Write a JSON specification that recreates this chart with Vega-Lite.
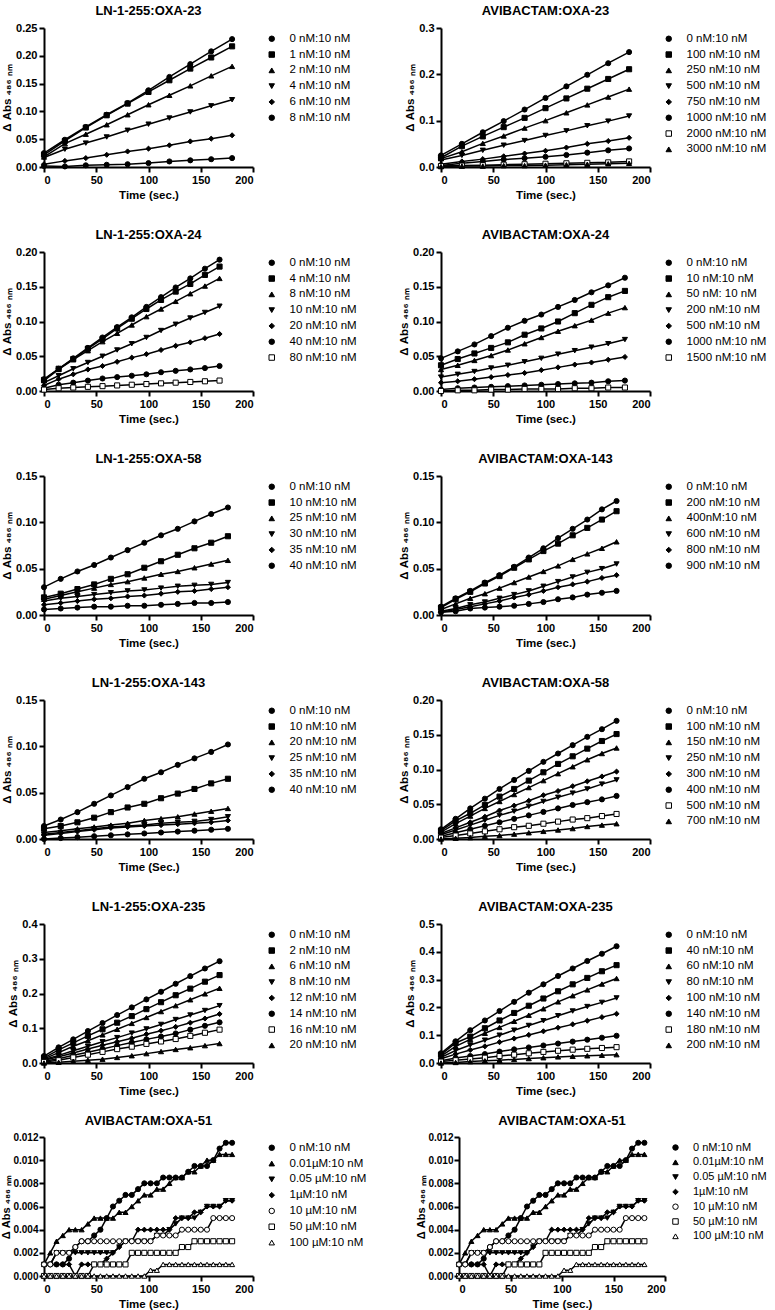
{
"$schema":"https://vega.github.io/schema/vega-lite/v6.json",
"padding":{"left":0,"top":5,"right":5,"bottom":5},
"config":{
 "font":"Liberation Sans",
 "view":{"stroke":null},
 "axis":{"domainColor":"black","domainWidth":2,"tickColor":"black","tickWidth":2,"tickSize":5,"labelColor":"black","labelFont":"Liberation Sans","labelFontSize":11,"labelFontWeight":"bold","titleColor":"black","titleFont":"Liberation Sans","titleFontSize":11.5,"titleFontWeight":"bold","grid":false,"labelPadding":2},
 "axisY":{"titlePadding":3},
 "legend":{"labelFont":"Liberation Sans","labelFontSize":11.5,"labelColor":"black","symbolSize":30,"rowPadding":2.8,"offset":8,"padding":5,"symbolStrokeWidth":1,"labelOffset":12},
 "title":{"font":"Liberation Sans","fontSize":13,"fontWeight":"bold","color":"black","offset":4,"frame":"group","anchor":"middle"}
},
"spacing":18,
"resolve":{"scale":{"x":"independent","y":"independent","shape":"independent","fill":"independent","stroke":"independent"},"legend":{"shape":"independent","fill":"independent","stroke":"independent"}},
"datasets":{
"p1":[
{"s":"0 nM:10 nM","t":0,"v":0.025},{"s":"0 nM:10 nM","t":20,"v":0.049},{"s":"0 nM:10 nM","t":40,"v":0.072},{"s":"0 nM:10 nM","t":60,"v":0.094},{"s":"0 nM:10 nM","t":80,"v":0.115},{"s":"0 nM:10 nM","t":100,"v":0.138},{"s":"0 nM:10 nM","t":120,"v":0.162},{"s":"0 nM:10 nM","t":140,"v":0.185},{"s":"0 nM:10 nM","t":160,"v":0.208},{"s":"0 nM:10 nM","t":180,"v":0.230},
{"s":"1 nM:10 nM","t":0,"v":0.022},{"s":"1 nM:10 nM","t":20,"v":0.047},{"s":"1 nM:10 nM","t":40,"v":0.071},{"s":"1 nM:10 nM","t":60,"v":0.093},{"s":"1 nM:10 nM","t":80,"v":0.114},{"s":"1 nM:10 nM","t":100,"v":0.135},{"s":"1 nM:10 nM","t":120,"v":0.156},{"s":"1 nM:10 nM","t":140,"v":0.177},{"s":"1 nM:10 nM","t":160,"v":0.197},{"s":"1 nM:10 nM","t":180,"v":0.217},
{"s":"2 nM:10 nM","t":0,"v":0.018},{"s":"2 nM:10 nM","t":20,"v":0.042},{"s":"2 nM:10 nM","t":40,"v":0.059},{"s":"2 nM:10 nM","t":60,"v":0.076},{"s":"2 nM:10 nM","t":80,"v":0.094},{"s":"2 nM:10 nM","t":100,"v":0.112},{"s":"2 nM:10 nM","t":120,"v":0.129},{"s":"2 nM:10 nM","t":140,"v":0.146},{"s":"2 nM:10 nM","t":160,"v":0.164},{"s":"2 nM:10 nM","t":180,"v":0.181},
{"s":"4 nM:10 nM","t":0,"v":0.017},{"s":"4 nM:10 nM","t":20,"v":0.032},{"s":"4 nM:10 nM","t":40,"v":0.043},{"s":"4 nM:10 nM","t":60,"v":0.054},{"s":"4 nM:10 nM","t":80,"v":0.066},{"s":"4 nM:10 nM","t":100,"v":0.077},{"s":"4 nM:10 nM","t":120,"v":0.088},{"s":"4 nM:10 nM","t":140,"v":0.099},{"s":"4 nM:10 nM","t":160,"v":0.110},{"s":"4 nM:10 nM","t":180,"v":0.121},
{"s":"6 nM:10 nM","t":0,"v":0.005},{"s":"6 nM:10 nM","t":20,"v":0.011},{"s":"6 nM:10 nM","t":40,"v":0.016},{"s":"6 nM:10 nM","t":60,"v":0.022},{"s":"6 nM:10 nM","t":80,"v":0.028},{"s":"6 nM:10 nM","t":100,"v":0.033},{"s":"6 nM:10 nM","t":120,"v":0.039},{"s":"6 nM:10 nM","t":140,"v":0.046},{"s":"6 nM:10 nM","t":160,"v":0.051},{"s":"6 nM:10 nM","t":180,"v":0.057},
{"s":"8 nM:10 nM","t":0,"v":0.002},{"s":"8 nM:10 nM","t":20,"v":0.001},{"s":"8 nM:10 nM","t":40,"v":0.003},{"s":"8 nM:10 nM","t":60,"v":0.004},{"s":"8 nM:10 nM","t":80,"v":0.005},{"s":"8 nM:10 nM","t":100,"v":0.007},{"s":"8 nM:10 nM","t":120,"v":0.010},{"s":"8 nM:10 nM","t":140,"v":0.012},{"s":"8 nM:10 nM","t":160,"v":0.014},{"s":"8 nM:10 nM","t":180,"v":0.016}
],
"p2":[
{"s":"0 nM:10 nM","t":0,"v":0.025},{"s":"0 nM:10 nM","t":20,"v":0.050},{"s":"0 nM:10 nM","t":40,"v":0.075},{"s":"0 nM:10 nM","t":60,"v":0.099},{"s":"0 nM:10 nM","t":80,"v":0.124},{"s":"0 nM:10 nM","t":100,"v":0.149},{"s":"0 nM:10 nM","t":120,"v":0.174},{"s":"0 nM:10 nM","t":140,"v":0.199},{"s":"0 nM:10 nM","t":160,"v":0.224},{"s":"0 nM:10 nM","t":180,"v":0.248},
{"s":"100 nM:10 nM","t":0,"v":0.020},{"s":"100 nM:10 nM","t":20,"v":0.045},{"s":"100 nM:10 nM","t":40,"v":0.066},{"s":"100 nM:10 nM","t":60,"v":0.086},{"s":"100 nM:10 nM","t":80,"v":0.106},{"s":"100 nM:10 nM","t":100,"v":0.127},{"s":"100 nM:10 nM","t":120,"v":0.148},{"s":"100 nM:10 nM","t":140,"v":0.169},{"s":"100 nM:10 nM","t":160,"v":0.190},{"s":"100 nM:10 nM","t":180,"v":0.211},
{"s":"250 nM:10 nM","t":0,"v":0.018},{"s":"250 nM:10 nM","t":20,"v":0.033},{"s":"250 nM:10 nM","t":40,"v":0.051},{"s":"250 nM:10 nM","t":60,"v":0.067},{"s":"250 nM:10 nM","t":80,"v":0.084},{"s":"250 nM:10 nM","t":100,"v":0.100},{"s":"250 nM:10 nM","t":120,"v":0.117},{"s":"250 nM:10 nM","t":140,"v":0.134},{"s":"250 nM:10 nM","t":160,"v":0.151},{"s":"250 nM:10 nM","t":180,"v":0.168},
{"s":"500 nM:10 nM","t":0,"v":0.015},{"s":"500 nM:10 nM","t":20,"v":0.025},{"s":"500 nM:10 nM","t":40,"v":0.036},{"s":"500 nM:10 nM","t":60,"v":0.047},{"s":"500 nM:10 nM","t":80,"v":0.057},{"s":"500 nM:10 nM","t":100,"v":0.068},{"s":"500 nM:10 nM","t":120,"v":0.078},{"s":"500 nM:10 nM","t":140,"v":0.089},{"s":"500 nM:10 nM","t":160,"v":0.099},{"s":"500 nM:10 nM","t":180,"v":0.110},
{"s":"750 nM:10 nM","t":0,"v":0.006},{"s":"750 nM:10 nM","t":20,"v":0.012},{"s":"750 nM:10 nM","t":40,"v":0.017},{"s":"750 nM:10 nM","t":60,"v":0.023},{"s":"750 nM:10 nM","t":80,"v":0.029},{"s":"750 nM:10 nM","t":100,"v":0.035},{"s":"750 nM:10 nM","t":120,"v":0.042},{"s":"750 nM:10 nM","t":140,"v":0.050},{"s":"750 nM:10 nM","t":160,"v":0.056},{"s":"750 nM:10 nM","t":180,"v":0.063},
{"s":"1000 nM:10 nM","t":0,"v":0.003},{"s":"1000 nM:10 nM","t":20,"v":0.008},{"s":"1000 nM:10 nM","t":40,"v":0.012},{"s":"1000 nM:10 nM","t":60,"v":0.016},{"s":"1000 nM:10 nM","t":80,"v":0.019},{"s":"1000 nM:10 nM","t":100,"v":0.022},{"s":"1000 nM:10 nM","t":120,"v":0.026},{"s":"1000 nM:10 nM","t":140,"v":0.031},{"s":"1000 nM:10 nM","t":160,"v":0.036},{"s":"1000 nM:10 nM","t":180,"v":0.040},
{"s":"2000 nM:10 nM","t":0,"v":0.002},{"s":"2000 nM:10 nM","t":20,"v":0.003},{"s":"2000 nM:10 nM","t":40,"v":0.004},{"s":"2000 nM:10 nM","t":60,"v":0.005},{"s":"2000 nM:10 nM","t":80,"v":0.006},{"s":"2000 nM:10 nM","t":100,"v":0.007},{"s":"2000 nM:10 nM","t":120,"v":0.008},{"s":"2000 nM:10 nM","t":140,"v":0.009},{"s":"2000 nM:10 nM","t":160,"v":0.010},{"s":"2000 nM:10 nM","t":180,"v":0.012},
{"s":"3000 nM:10 nM","t":0,"v":0.001},{"s":"3000 nM:10 nM","t":20,"v":0.002},{"s":"3000 nM:10 nM","t":40,"v":0.002},{"s":"3000 nM:10 nM","t":60,"v":0.003},{"s":"3000 nM:10 nM","t":80,"v":0.003},{"s":"3000 nM:10 nM","t":100,"v":0.004},{"s":"3000 nM:10 nM","t":120,"v":0.005},{"s":"3000 nM:10 nM","t":140,"v":0.006},{"s":"3000 nM:10 nM","t":160,"v":0.007},{"s":"3000 nM:10 nM","t":180,"v":0.008}
],
"p3":[
{"s":"0 nM:10 nM","t":0,"v":0.017},{"s":"0 nM:10 nM","t":14,"v":0.032},{"s":"0 nM:10 nM","t":28,"v":0.047},{"s":"0 nM:10 nM","t":42,"v":0.062},{"s":"0 nM:10 nM","t":56,"v":0.077},{"s":"0 nM:10 nM","t":70,"v":0.092},{"s":"0 nM:10 nM","t":84,"v":0.106},{"s":"0 nM:10 nM","t":98,"v":0.121},{"s":"0 nM:10 nM","t":112,"v":0.135},{"s":"0 nM:10 nM","t":126,"v":0.149},{"s":"0 nM:10 nM","t":140,"v":0.162},{"s":"0 nM:10 nM","t":154,"v":0.176},{"s":"0 nM:10 nM","t":168,"v":0.189},
{"s":"4 nM:10 nM","t":0,"v":0.016},{"s":"4 nM:10 nM","t":14,"v":0.032},{"s":"4 nM:10 nM","t":28,"v":0.046},{"s":"4 nM:10 nM","t":42,"v":0.061},{"s":"4 nM:10 nM","t":56,"v":0.075},{"s":"4 nM:10 nM","t":70,"v":0.090},{"s":"4 nM:10 nM","t":84,"v":0.104},{"s":"4 nM:10 nM","t":98,"v":0.118},{"s":"4 nM:10 nM","t":112,"v":0.131},{"s":"4 nM:10 nM","t":126,"v":0.143},{"s":"4 nM:10 nM","t":140,"v":0.154},{"s":"4 nM:10 nM","t":154,"v":0.167},{"s":"4 nM:10 nM","t":168,"v":0.179},
{"s":"8 nM:10 nM","t":0,"v":0.015},{"s":"8 nM:10 nM","t":14,"v":0.031},{"s":"8 nM:10 nM","t":28,"v":0.045},{"s":"8 nM:10 nM","t":42,"v":0.058},{"s":"8 nM:10 nM","t":56,"v":0.071},{"s":"8 nM:10 nM","t":70,"v":0.083},{"s":"8 nM:10 nM","t":84,"v":0.095},{"s":"8 nM:10 nM","t":98,"v":0.107},{"s":"8 nM:10 nM","t":112,"v":0.118},{"s":"8 nM:10 nM","t":126,"v":0.129},{"s":"8 nM:10 nM","t":140,"v":0.140},{"s":"8 nM:10 nM","t":154,"v":0.151},{"s":"8 nM:10 nM","t":168,"v":0.162},
{"s":"10 nM:10 nM","t":0,"v":0.012},{"s":"10 nM:10 nM","t":14,"v":0.022},{"s":"10 nM:10 nM","t":28,"v":0.032},{"s":"10 nM:10 nM","t":42,"v":0.041},{"s":"10 nM:10 nM","t":56,"v":0.050},{"s":"10 nM:10 nM","t":70,"v":0.059},{"s":"10 nM:10 nM","t":84,"v":0.068},{"s":"10 nM:10 nM","t":98,"v":0.077},{"s":"10 nM:10 nM","t":112,"v":0.087},{"s":"10 nM:10 nM","t":126,"v":0.096},{"s":"10 nM:10 nM","t":140,"v":0.105},{"s":"10 nM:10 nM","t":154,"v":0.113},{"s":"10 nM:10 nM","t":168,"v":0.122},
{"s":"20 nM:10 nM","t":0,"v":0.008},{"s":"20 nM:10 nM","t":14,"v":0.017},{"s":"20 nM:10 nM","t":28,"v":0.024},{"s":"20 nM:10 nM","t":42,"v":0.031},{"s":"20 nM:10 nM","t":56,"v":0.036},{"s":"20 nM:10 nM","t":70,"v":0.042},{"s":"20 nM:10 nM","t":84,"v":0.048},{"s":"20 nM:10 nM","t":98,"v":0.053},{"s":"20 nM:10 nM","t":112,"v":0.059},{"s":"20 nM:10 nM","t":126,"v":0.065},{"s":"20 nM:10 nM","t":140,"v":0.070},{"s":"20 nM:10 nM","t":154,"v":0.076},{"s":"20 nM:10 nM","t":168,"v":0.082},
{"s":"40 nM:10 nM","t":0,"v":0.004},{"s":"40 nM:10 nM","t":14,"v":0.009},{"s":"40 nM:10 nM","t":28,"v":0.012},{"s":"40 nM:10 nM","t":42,"v":0.015},{"s":"40 nM:10 nM","t":56,"v":0.018},{"s":"40 nM:10 nM","t":70,"v":0.020},{"s":"40 nM:10 nM","t":84,"v":0.022},{"s":"40 nM:10 nM","t":98,"v":0.024},{"s":"40 nM:10 nM","t":112,"v":0.027},{"s":"40 nM:10 nM","t":126,"v":0.029},{"s":"40 nM:10 nM","t":140,"v":0.031},{"s":"40 nM:10 nM","t":154,"v":0.033},{"s":"40 nM:10 nM","t":168,"v":0.036},
{"s":"80 nM:10 nM","t":0,"v":0.002},{"s":"80 nM:10 nM","t":14,"v":0.004},{"s":"80 nM:10 nM","t":28,"v":0.005},{"s":"80 nM:10 nM","t":42,"v":0.006},{"s":"80 nM:10 nM","t":56,"v":0.007},{"s":"80 nM:10 nM","t":70,"v":0.008},{"s":"80 nM:10 nM","t":84,"v":0.009},{"s":"80 nM:10 nM","t":98,"v":0.010},{"s":"80 nM:10 nM","t":112,"v":0.011},{"s":"80 nM:10 nM","t":126,"v":0.012},{"s":"80 nM:10 nM","t":140,"v":0.013},{"s":"80 nM:10 nM","t":154,"v":0.014},{"s":"80 nM:10 nM","t":168,"v":0.015}
],
"p4":[
{"s":"0 nM:10 nM","t":0,"v":0.047},{"s":"0 nM:10 nM","t":16,"v":0.057},{"s":"0 nM:10 nM","t":32,"v":0.067},{"s":"0 nM:10 nM","t":48,"v":0.079},{"s":"0 nM:10 nM","t":64,"v":0.091},{"s":"0 nM:10 nM","t":80,"v":0.101},{"s":"0 nM:10 nM","t":96,"v":0.110},{"s":"0 nM:10 nM","t":112,"v":0.121},{"s":"0 nM:10 nM","t":128,"v":0.131},{"s":"0 nM:10 nM","t":144,"v":0.142},{"s":"0 nM:10 nM","t":160,"v":0.152},{"s":"0 nM:10 nM","t":176,"v":0.163},
{"s":"10 nM:10 nM","t":0,"v":0.037},{"s":"10 nM:10 nM","t":16,"v":0.046},{"s":"10 nM:10 nM","t":32,"v":0.054},{"s":"10 nM:10 nM","t":48,"v":0.062},{"s":"10 nM:10 nM","t":64,"v":0.070},{"s":"10 nM:10 nM","t":80,"v":0.081},{"s":"10 nM:10 nM","t":96,"v":0.090},{"s":"10 nM:10 nM","t":112,"v":0.100},{"s":"10 nM:10 nM","t":128,"v":0.112},{"s":"10 nM:10 nM","t":144,"v":0.124},{"s":"10 nM:10 nM","t":160,"v":0.135},{"s":"10 nM:10 nM","t":176,"v":0.144},
{"s":"50 nM: 10 nM","t":0,"v":0.031},{"s":"50 nM: 10 nM","t":16,"v":0.037},{"s":"50 nM: 10 nM","t":32,"v":0.044},{"s":"50 nM: 10 nM","t":48,"v":0.051},{"s":"50 nM: 10 nM","t":64,"v":0.059},{"s":"50 nM: 10 nM","t":80,"v":0.068},{"s":"50 nM: 10 nM","t":96,"v":0.077},{"s":"50 nM: 10 nM","t":112,"v":0.086},{"s":"50 nM: 10 nM","t":128,"v":0.094},{"s":"50 nM: 10 nM","t":144,"v":0.102},{"s":"50 nM: 10 nM","t":160,"v":0.112},{"s":"50 nM: 10 nM","t":176,"v":0.120},
{"s":"200 nM:10 nM","t":0,"v":0.020},{"s":"200 nM:10 nM","t":16,"v":0.024},{"s":"200 nM:10 nM","t":32,"v":0.028},{"s":"200 nM:10 nM","t":48,"v":0.033},{"s":"200 nM:10 nM","t":64,"v":0.037},{"s":"200 nM:10 nM","t":80,"v":0.042},{"s":"200 nM:10 nM","t":96,"v":0.047},{"s":"200 nM:10 nM","t":112,"v":0.053},{"s":"200 nM:10 nM","t":128,"v":0.058},{"s":"200 nM:10 nM","t":144,"v":0.063},{"s":"200 nM:10 nM","t":160,"v":0.068},{"s":"200 nM:10 nM","t":176,"v":0.074},
{"s":"500 nM:10 nM","t":0,"v":0.012},{"s":"500 nM:10 nM","t":16,"v":0.014},{"s":"500 nM:10 nM","t":32,"v":0.017},{"s":"500 nM:10 nM","t":48,"v":0.020},{"s":"500 nM:10 nM","t":64,"v":0.023},{"s":"500 nM:10 nM","t":80,"v":0.026},{"s":"500 nM:10 nM","t":96,"v":0.030},{"s":"500 nM:10 nM","t":112,"v":0.034},{"s":"500 nM:10 nM","t":128,"v":0.038},{"s":"500 nM:10 nM","t":144,"v":0.041},{"s":"500 nM:10 nM","t":160,"v":0.045},{"s":"500 nM:10 nM","t":176,"v":0.049},
{"s":"1000 nM:10 nM","t":0,"v":0.002},{"s":"1000 nM:10 nM","t":16,"v":0.004},{"s":"1000 nM:10 nM","t":32,"v":0.005},{"s":"1000 nM:10 nM","t":48,"v":0.006},{"s":"1000 nM:10 nM","t":64,"v":0.007},{"s":"1000 nM:10 nM","t":80,"v":0.008},{"s":"1000 nM:10 nM","t":96,"v":0.009},{"s":"1000 nM:10 nM","t":112,"v":0.010},{"s":"1000 nM:10 nM","t":128,"v":0.011},{"s":"1000 nM:10 nM","t":144,"v":0.012},{"s":"1000 nM:10 nM","t":160,"v":0.014},{"s":"1000 nM:10 nM","t":176,"v":0.015},
{"s":"1500 nM:10 nM","t":0,"v":0.000},{"s":"1500 nM:10 nM","t":16,"v":0.001},{"s":"1500 nM:10 nM","t":32,"v":0.001},{"s":"1500 nM:10 nM","t":48,"v":0.002},{"s":"1500 nM:10 nM","t":64,"v":0.002},{"s":"1500 nM:10 nM","t":80,"v":0.003},{"s":"1500 nM:10 nM","t":96,"v":0.003},{"s":"1500 nM:10 nM","t":112,"v":0.003},{"s":"1500 nM:10 nM","t":128,"v":0.004},{"s":"1500 nM:10 nM","t":144,"v":0.004},{"s":"1500 nM:10 nM","t":160,"v":0.005},{"s":"1500 nM:10 nM","t":176,"v":0.005}
],
"p5":[
{"s":"0 nM:10 nM","t":0,"v":0.030},{"s":"0 nM:10 nM","t":16,"v":0.039},{"s":"0 nM:10 nM","t":32,"v":0.047},{"s":"0 nM:10 nM","t":48,"v":0.054},{"s":"0 nM:10 nM","t":64,"v":0.062},{"s":"0 nM:10 nM","t":80,"v":0.070},{"s":"0 nM:10 nM","t":96,"v":0.078},{"s":"0 nM:10 nM","t":112,"v":0.086},{"s":"0 nM:10 nM","t":128,"v":0.093},{"s":"0 nM:10 nM","t":144,"v":0.101},{"s":"0 nM:10 nM","t":160,"v":0.109},{"s":"0 nM:10 nM","t":176,"v":0.116},
{"s":"10 nM:10 nM","t":0,"v":0.019},{"s":"10 nM:10 nM","t":16,"v":0.023},{"s":"10 nM:10 nM","t":32,"v":0.028},{"s":"10 nM:10 nM","t":48,"v":0.033},{"s":"10 nM:10 nM","t":64,"v":0.039},{"s":"10 nM:10 nM","t":80,"v":0.044},{"s":"10 nM:10 nM","t":96,"v":0.051},{"s":"10 nM:10 nM","t":112,"v":0.058},{"s":"10 nM:10 nM","t":128,"v":0.065},{"s":"10 nM:10 nM","t":144,"v":0.072},{"s":"10 nM:10 nM","t":160,"v":0.078},{"s":"10 nM:10 nM","t":176,"v":0.085},
{"s":"25 nM:10 nM","t":0,"v":0.017},{"s":"25 nM:10 nM","t":16,"v":0.021},{"s":"25 nM:10 nM","t":32,"v":0.025},{"s":"25 nM:10 nM","t":48,"v":0.029},{"s":"25 nM:10 nM","t":64,"v":0.033},{"s":"25 nM:10 nM","t":80,"v":0.036},{"s":"25 nM:10 nM","t":96,"v":0.040},{"s":"25 nM:10 nM","t":112,"v":0.044},{"s":"25 nM:10 nM","t":128,"v":0.047},{"s":"25 nM:10 nM","t":144,"v":0.051},{"s":"25 nM:10 nM","t":160,"v":0.055},{"s":"25 nM:10 nM","t":176,"v":0.059},
{"s":"30 nM:10 nM","t":0,"v":0.015},{"s":"30 nM:10 nM","t":16,"v":0.018},{"s":"30 nM:10 nM","t":32,"v":0.020},{"s":"30 nM:10 nM","t":48,"v":0.022},{"s":"30 nM:10 nM","t":64,"v":0.024},{"s":"30 nM:10 nM","t":80,"v":0.026},{"s":"30 nM:10 nM","t":96,"v":0.027},{"s":"30 nM:10 nM","t":112,"v":0.029},{"s":"30 nM:10 nM","t":128,"v":0.031},{"s":"30 nM:10 nM","t":144,"v":0.032},{"s":"30 nM:10 nM","t":160,"v":0.033},{"s":"30 nM:10 nM","t":176,"v":0.035},
{"s":"35 nM:10 nM","t":0,"v":0.011},{"s":"35 nM:10 nM","t":16,"v":0.013},{"s":"35 nM:10 nM","t":32,"v":0.015},{"s":"35 nM:10 nM","t":48,"v":0.017},{"s":"35 nM:10 nM","t":64,"v":0.018},{"s":"35 nM:10 nM","t":80,"v":0.020},{"s":"35 nM:10 nM","t":96,"v":0.021},{"s":"35 nM:10 nM","t":112,"v":0.023},{"s":"35 nM:10 nM","t":128,"v":0.025},{"s":"35 nM:10 nM","t":144,"v":0.026},{"s":"35 nM:10 nM","t":160,"v":0.028},{"s":"35 nM:10 nM","t":176,"v":0.030},
{"s":"40 nM:10 nM","t":0,"v":0.006},{"s":"40 nM:10 nM","t":16,"v":0.007},{"s":"40 nM:10 nM","t":32,"v":0.008},{"s":"40 nM:10 nM","t":48,"v":0.009},{"s":"40 nM:10 nM","t":64,"v":0.009},{"s":"40 nM:10 nM","t":80,"v":0.010},{"s":"40 nM:10 nM","t":96,"v":0.010},{"s":"40 nM:10 nM","t":112,"v":0.011},{"s":"40 nM:10 nM","t":128,"v":0.012},{"s":"40 nM:10 nM","t":144,"v":0.013},{"s":"40 nM:10 nM","t":160,"v":0.013},{"s":"40 nM:10 nM","t":176,"v":0.014}
],
"p6":[
{"s":"0 nM:10 nM","t":0,"v":0.009},{"s":"0 nM:10 nM","t":14,"v":0.018},{"s":"0 nM:10 nM","t":28,"v":0.026},{"s":"0 nM:10 nM","t":42,"v":0.035},{"s":"0 nM:10 nM","t":56,"v":0.043},{"s":"0 nM:10 nM","t":70,"v":0.052},{"s":"0 nM:10 nM","t":84,"v":0.062},{"s":"0 nM:10 nM","t":98,"v":0.072},{"s":"0 nM:10 nM","t":112,"v":0.083},{"s":"0 nM:10 nM","t":126,"v":0.093},{"s":"0 nM:10 nM","t":140,"v":0.103},{"s":"0 nM:10 nM","t":154,"v":0.114},{"s":"0 nM:10 nM","t":168,"v":0.123},
{"s":"200 nM:10 nM","t":0,"v":0.008},{"s":"200 nM:10 nM","t":14,"v":0.017},{"s":"200 nM:10 nM","t":28,"v":0.025},{"s":"200 nM:10 nM","t":42,"v":0.034},{"s":"200 nM:10 nM","t":56,"v":0.042},{"s":"200 nM:10 nM","t":70,"v":0.051},{"s":"200 nM:10 nM","t":84,"v":0.060},{"s":"200 nM:10 nM","t":98,"v":0.069},{"s":"200 nM:10 nM","t":112,"v":0.077},{"s":"200 nM:10 nM","t":126,"v":0.086},{"s":"200 nM:10 nM","t":140,"v":0.094},{"s":"200 nM:10 nM","t":154,"v":0.103},{"s":"200 nM:10 nM","t":168,"v":0.112},
{"s":"400nM:10 nM","t":0,"v":0.006},{"s":"400nM:10 nM","t":14,"v":0.012},{"s":"400nM:10 nM","t":28,"v":0.018},{"s":"400nM:10 nM","t":42,"v":0.023},{"s":"400nM:10 nM","t":56,"v":0.029},{"s":"400nM:10 nM","t":70,"v":0.035},{"s":"400nM:10 nM","t":84,"v":0.041},{"s":"400nM:10 nM","t":98,"v":0.047},{"s":"400nM:10 nM","t":112,"v":0.053},{"s":"400nM:10 nM","t":126,"v":0.060},{"s":"400nM:10 nM","t":140,"v":0.066},{"s":"400nM:10 nM","t":154,"v":0.072},{"s":"400nM:10 nM","t":168,"v":0.079},
{"s":"600 nM:10 nM","t":0,"v":0.004},{"s":"600 nM:10 nM","t":14,"v":0.007},{"s":"600 nM:10 nM","t":28,"v":0.011},{"s":"600 nM:10 nM","t":42,"v":0.014},{"s":"600 nM:10 nM","t":56,"v":0.018},{"s":"600 nM:10 nM","t":70,"v":0.022},{"s":"600 nM:10 nM","t":84,"v":0.026},{"s":"600 nM:10 nM","t":98,"v":0.031},{"s":"600 nM:10 nM","t":112,"v":0.036},{"s":"600 nM:10 nM","t":126,"v":0.041},{"s":"600 nM:10 nM","t":140,"v":0.046},{"s":"600 nM:10 nM","t":154,"v":0.050},{"s":"600 nM:10 nM","t":168,"v":0.055},
{"s":"800 nM:10 nM","t":0,"v":0.003},{"s":"800 nM:10 nM","t":14,"v":0.006},{"s":"800 nM:10 nM","t":28,"v":0.009},{"s":"800 nM:10 nM","t":42,"v":0.012},{"s":"800 nM:10 nM","t":56,"v":0.015},{"s":"800 nM:10 nM","t":70,"v":0.019},{"s":"800 nM:10 nM","t":84,"v":0.022},{"s":"800 nM:10 nM","t":98,"v":0.026},{"s":"800 nM:10 nM","t":112,"v":0.030},{"s":"800 nM:10 nM","t":126,"v":0.033},{"s":"800 nM:10 nM","t":140,"v":0.036},{"s":"800 nM:10 nM","t":154,"v":0.040},{"s":"800 nM:10 nM","t":168,"v":0.043},
{"s":"900 nM:10 nM","t":0,"v":0.003},{"s":"900 nM:10 nM","t":14,"v":0.004},{"s":"900 nM:10 nM","t":28,"v":0.007},{"s":"900 nM:10 nM","t":42,"v":0.008},{"s":"900 nM:10 nM","t":56,"v":0.009},{"s":"900 nM:10 nM","t":70,"v":0.010},{"s":"900 nM:10 nM","t":84,"v":0.012},{"s":"900 nM:10 nM","t":98,"v":0.014},{"s":"900 nM:10 nM","t":112,"v":0.017},{"s":"900 nM:10 nM","t":126,"v":0.019},{"s":"900 nM:10 nM","t":140,"v":0.022},{"s":"900 nM:10 nM","t":154,"v":0.024},{"s":"900 nM:10 nM","t":168,"v":0.026}
],
"p7":[
{"s":"0 nM:10 nM","t":0,"v":0.014},{"s":"0 nM:10 nM","t":16,"v":0.021},{"s":"0 nM:10 nM","t":32,"v":0.029},{"s":"0 nM:10 nM","t":48,"v":0.038},{"s":"0 nM:10 nM","t":64,"v":0.047},{"s":"0 nM:10 nM","t":80,"v":0.056},{"s":"0 nM:10 nM","t":96,"v":0.065},{"s":"0 nM:10 nM","t":112,"v":0.072},{"s":"0 nM:10 nM","t":128,"v":0.080},{"s":"0 nM:10 nM","t":144,"v":0.087},{"s":"0 nM:10 nM","t":160,"v":0.094},{"s":"0 nM:10 nM","t":176,"v":0.102},
{"s":"10 nM:10 nM","t":0,"v":0.011},{"s":"10 nM:10 nM","t":16,"v":0.014},{"s":"10 nM:10 nM","t":32,"v":0.018},{"s":"10 nM:10 nM","t":48,"v":0.023},{"s":"10 nM:10 nM","t":64,"v":0.029},{"s":"10 nM:10 nM","t":80,"v":0.034},{"s":"10 nM:10 nM","t":96,"v":0.038},{"s":"10 nM:10 nM","t":112,"v":0.044},{"s":"10 nM:10 nM","t":128,"v":0.049},{"s":"10 nM:10 nM","t":144,"v":0.054},{"s":"10 nM:10 nM","t":160,"v":0.060},{"s":"10 nM:10 nM","t":176,"v":0.065},
{"s":"20 nM:10 nM","t":0,"v":0.007},{"s":"20 nM:10 nM","t":16,"v":0.009},{"s":"20 nM:10 nM","t":32,"v":0.011},{"s":"20 nM:10 nM","t":48,"v":0.013},{"s":"20 nM:10 nM","t":64,"v":0.015},{"s":"20 nM:10 nM","t":80,"v":0.017},{"s":"20 nM:10 nM","t":96,"v":0.020},{"s":"20 nM:10 nM","t":112,"v":0.022},{"s":"20 nM:10 nM","t":128,"v":0.024},{"s":"20 nM:10 nM","t":144,"v":0.027},{"s":"20 nM:10 nM","t":160,"v":0.030},{"s":"20 nM:10 nM","t":176,"v":0.033},
{"s":"25 nM:10 nM","t":0,"v":0.005},{"s":"25 nM:10 nM","t":16,"v":0.007},{"s":"25 nM:10 nM","t":32,"v":0.009},{"s":"25 nM:10 nM","t":48,"v":0.011},{"s":"25 nM:10 nM","t":64,"v":0.013},{"s":"25 nM:10 nM","t":80,"v":0.014},{"s":"25 nM:10 nM","t":96,"v":0.015},{"s":"25 nM:10 nM","t":112,"v":0.017},{"s":"25 nM:10 nM","t":128,"v":0.018},{"s":"25 nM:10 nM","t":144,"v":0.019},{"s":"25 nM:10 nM","t":160,"v":0.021},{"s":"25 nM:10 nM","t":176,"v":0.024},
{"s":"35 nM:10 nM","t":0,"v":0.004},{"s":"35 nM:10 nM","t":16,"v":0.006},{"s":"35 nM:10 nM","t":32,"v":0.008},{"s":"35 nM:10 nM","t":48,"v":0.010},{"s":"35 nM:10 nM","t":64,"v":0.012},{"s":"35 nM:10 nM","t":80,"v":0.013},{"s":"35 nM:10 nM","t":96,"v":0.014},{"s":"35 nM:10 nM","t":112,"v":0.015},{"s":"35 nM:10 nM","t":128,"v":0.016},{"s":"35 nM:10 nM","t":144,"v":0.017},{"s":"35 nM:10 nM","t":160,"v":0.018},{"s":"35 nM:10 nM","t":176,"v":0.020},
{"s":"40 nM:10 nM","t":0,"v":0.000},{"s":"40 nM:10 nM","t":16,"v":0.001},{"s":"40 nM:10 nM","t":32,"v":0.002},{"s":"40 nM:10 nM","t":48,"v":0.003},{"s":"40 nM:10 nM","t":64,"v":0.004},{"s":"40 nM:10 nM","t":80,"v":0.005},{"s":"40 nM:10 nM","t":96,"v":0.006},{"s":"40 nM:10 nM","t":112,"v":0.007},{"s":"40 nM:10 nM","t":128,"v":0.008},{"s":"40 nM:10 nM","t":144,"v":0.009},{"s":"40 nM:10 nM","t":160,"v":0.010},{"s":"40 nM:10 nM","t":176,"v":0.011}
],
"p8":[
{"s":"0 nM:10 nM","t":0,"v":0.014},{"s":"0 nM:10 nM","t":14,"v":0.029},{"s":"0 nM:10 nM","t":28,"v":0.044},{"s":"0 nM:10 nM","t":42,"v":0.058},{"s":"0 nM:10 nM","t":56,"v":0.072},{"s":"0 nM:10 nM","t":70,"v":0.085},{"s":"0 nM:10 nM","t":84,"v":0.098},{"s":"0 nM:10 nM","t":98,"v":0.111},{"s":"0 nM:10 nM","t":112,"v":0.123},{"s":"0 nM:10 nM","t":126,"v":0.135},{"s":"0 nM:10 nM","t":140,"v":0.147},{"s":"0 nM:10 nM","t":154,"v":0.158},{"s":"0 nM:10 nM","t":168,"v":0.170},
{"s":"100 nM:10 nM","t":0,"v":0.012},{"s":"100 nM:10 nM","t":14,"v":0.026},{"s":"100 nM:10 nM","t":28,"v":0.037},{"s":"100 nM:10 nM","t":42,"v":0.049},{"s":"100 nM:10 nM","t":56,"v":0.061},{"s":"100 nM:10 nM","t":70,"v":0.072},{"s":"100 nM:10 nM","t":84,"v":0.084},{"s":"100 nM:10 nM","t":98,"v":0.096},{"s":"100 nM:10 nM","t":112,"v":0.108},{"s":"100 nM:10 nM","t":126,"v":0.119},{"s":"100 nM:10 nM","t":140,"v":0.130},{"s":"100 nM:10 nM","t":154,"v":0.141},{"s":"100 nM:10 nM","t":168,"v":0.151},
{"s":"150 nM:10 nM","t":0,"v":0.010},{"s":"150 nM:10 nM","t":14,"v":0.022},{"s":"150 nM:10 nM","t":28,"v":0.033},{"s":"150 nM:10 nM","t":42,"v":0.044},{"s":"150 nM:10 nM","t":56,"v":0.054},{"s":"150 nM:10 nM","t":70,"v":0.064},{"s":"150 nM:10 nM","t":84,"v":0.074},{"s":"150 nM:10 nM","t":98,"v":0.084},{"s":"150 nM:10 nM","t":112,"v":0.094},{"s":"150 nM:10 nM","t":126,"v":0.104},{"s":"150 nM:10 nM","t":140,"v":0.114},{"s":"150 nM:10 nM","t":154,"v":0.123},{"s":"150 nM:10 nM","t":168,"v":0.131},
{"s":"250 nM:10 nM","t":0,"v":0.006},{"s":"250 nM:10 nM","t":14,"v":0.013},{"s":"250 nM:10 nM","t":28,"v":0.020},{"s":"250 nM:10 nM","t":42,"v":0.027},{"s":"250 nM:10 nM","t":56,"v":0.034},{"s":"250 nM:10 nM","t":70,"v":0.040},{"s":"250 nM:10 nM","t":84,"v":0.047},{"s":"250 nM:10 nM","t":98,"v":0.054},{"s":"250 nM:10 nM","t":112,"v":0.060},{"s":"250 nM:10 nM","t":126,"v":0.066},{"s":"250 nM:10 nM","t":140,"v":0.072},{"s":"250 nM:10 nM","t":154,"v":0.079},{"s":"250 nM:10 nM","t":168,"v":0.085},
{"s":"300 nM:10 nM","t":0,"v":0.008},{"s":"300 nM:10 nM","t":14,"v":0.016},{"s":"300 nM:10 nM","t":28,"v":0.024},{"s":"300 nM:10 nM","t":42,"v":0.032},{"s":"300 nM:10 nM","t":56,"v":0.041},{"s":"300 nM:10 nM","t":70,"v":0.048},{"s":"300 nM:10 nM","t":84,"v":0.055},{"s":"300 nM:10 nM","t":98,"v":0.063},{"s":"300 nM:10 nM","t":112,"v":0.069},{"s":"300 nM:10 nM","t":126,"v":0.076},{"s":"300 nM:10 nM","t":140,"v":0.083},{"s":"300 nM:10 nM","t":154,"v":0.090},{"s":"300 nM:10 nM","t":168,"v":0.097},
{"s":"400 nM:10 nM","t":0,"v":0.004},{"s":"400 nM:10 nM","t":14,"v":0.009},{"s":"400 nM:10 nM","t":28,"v":0.014},{"s":"400 nM:10 nM","t":42,"v":0.019},{"s":"400 nM:10 nM","t":56,"v":0.024},{"s":"400 nM:10 nM","t":70,"v":0.029},{"s":"400 nM:10 nM","t":84,"v":0.034},{"s":"400 nM:10 nM","t":98,"v":0.039},{"s":"400 nM:10 nM","t":112,"v":0.044},{"s":"400 nM:10 nM","t":126,"v":0.049},{"s":"400 nM:10 nM","t":140,"v":0.053},{"s":"400 nM:10 nM","t":154,"v":0.057},{"s":"400 nM:10 nM","t":168,"v":0.062},
{"s":"500 nM:10 nM","t":0,"v":0.002},{"s":"500 nM:10 nM","t":14,"v":0.005},{"s":"500 nM:10 nM","t":28,"v":0.008},{"s":"500 nM:10 nM","t":42,"v":0.011},{"s":"500 nM:10 nM","t":56,"v":0.014},{"s":"500 nM:10 nM","t":70,"v":0.017},{"s":"500 nM:10 nM","t":84,"v":0.019},{"s":"500 nM:10 nM","t":98,"v":0.022},{"s":"500 nM:10 nM","t":112,"v":0.025},{"s":"500 nM:10 nM","t":126,"v":0.028},{"s":"500 nM:10 nM","t":140,"v":0.030},{"s":"500 nM:10 nM","t":154,"v":0.033},{"s":"500 nM:10 nM","t":168,"v":0.036},
{"s":"700 nM:10 nM","t":0,"v":0.000},{"s":"700 nM:10 nM","t":14,"v":0.001},{"s":"700 nM:10 nM","t":28,"v":0.002},{"s":"700 nM:10 nM","t":42,"v":0.004},{"s":"700 nM:10 nM","t":56,"v":0.005},{"s":"700 nM:10 nM","t":70,"v":0.007},{"s":"700 nM:10 nM","t":84,"v":0.009},{"s":"700 nM:10 nM","t":98,"v":0.011},{"s":"700 nM:10 nM","t":112,"v":0.013},{"s":"700 nM:10 nM","t":126,"v":0.015},{"s":"700 nM:10 nM","t":140,"v":0.018},{"s":"700 nM:10 nM","t":154,"v":0.020},{"s":"700 nM:10 nM","t":168,"v":0.022}
],
"p9":[
{"s":"0 nM:10 nM","t":0,"v":0.020},{"s":"0 nM:10 nM","t":14,"v":0.045},{"s":"0 nM:10 nM","t":28,"v":0.068},{"s":"0 nM:10 nM","t":42,"v":0.092},{"s":"0 nM:10 nM","t":56,"v":0.115},{"s":"0 nM:10 nM","t":70,"v":0.138},{"s":"0 nM:10 nM","t":84,"v":0.160},{"s":"0 nM:10 nM","t":98,"v":0.183},{"s":"0 nM:10 nM","t":112,"v":0.205},{"s":"0 nM:10 nM","t":126,"v":0.228},{"s":"0 nM:10 nM","t":140,"v":0.250},{"s":"0 nM:10 nM","t":154,"v":0.272},{"s":"0 nM:10 nM","t":168,"v":0.293},
{"s":"2 nM:10 nM","t":0,"v":0.015},{"s":"2 nM:10 nM","t":14,"v":0.038},{"s":"2 nM:10 nM","t":28,"v":0.058},{"s":"2 nM:10 nM","t":42,"v":0.078},{"s":"2 nM:10 nM","t":56,"v":0.097},{"s":"2 nM:10 nM","t":70,"v":0.116},{"s":"2 nM:10 nM","t":84,"v":0.135},{"s":"2 nM:10 nM","t":98,"v":0.155},{"s":"2 nM:10 nM","t":112,"v":0.175},{"s":"2 nM:10 nM","t":126,"v":0.195},{"s":"2 nM:10 nM","t":140,"v":0.214},{"s":"2 nM:10 nM","t":154,"v":0.234},{"s":"2 nM:10 nM","t":168,"v":0.253},
{"s":"6 nM:10 nM","t":0,"v":0.012},{"s":"6 nM:10 nM","t":14,"v":0.030},{"s":"6 nM:10 nM","t":28,"v":0.048},{"s":"6 nM:10 nM","t":42,"v":0.064},{"s":"6 nM:10 nM","t":56,"v":0.081},{"s":"6 nM:10 nM","t":70,"v":0.097},{"s":"6 nM:10 nM","t":84,"v":0.114},{"s":"6 nM:10 nM","t":98,"v":0.131},{"s":"6 nM:10 nM","t":112,"v":0.148},{"s":"6 nM:10 nM","t":126,"v":0.165},{"s":"6 nM:10 nM","t":140,"v":0.182},{"s":"6 nM:10 nM","t":154,"v":0.199},{"s":"6 nM:10 nM","t":168,"v":0.215},
{"s":"8 nM:10 nM","t":0,"v":0.010},{"s":"8 nM:10 nM","t":14,"v":0.022},{"s":"8 nM:10 nM","t":28,"v":0.035},{"s":"8 nM:10 nM","t":42,"v":0.048},{"s":"8 nM:10 nM","t":56,"v":0.061},{"s":"8 nM:10 nM","t":70,"v":0.073},{"s":"8 nM:10 nM","t":84,"v":0.086},{"s":"8 nM:10 nM","t":98,"v":0.098},{"s":"8 nM:10 nM","t":112,"v":0.111},{"s":"8 nM:10 nM","t":126,"v":0.125},{"s":"8 nM:10 nM","t":140,"v":0.138},{"s":"8 nM:10 nM","t":154,"v":0.151},{"s":"8 nM:10 nM","t":168,"v":0.165},
{"s":"12 nM:10 nM","t":0,"v":0.008},{"s":"12 nM:10 nM","t":14,"v":0.018},{"s":"12 nM:10 nM","t":28,"v":0.029},{"s":"12 nM:10 nM","t":42,"v":0.040},{"s":"12 nM:10 nM","t":56,"v":0.051},{"s":"12 nM:10 nM","t":70,"v":0.061},{"s":"12 nM:10 nM","t":84,"v":0.071},{"s":"12 nM:10 nM","t":98,"v":0.083},{"s":"12 nM:10 nM","t":112,"v":0.093},{"s":"12 nM:10 nM","t":126,"v":0.104},{"s":"12 nM:10 nM","t":140,"v":0.116},{"s":"12 nM:10 nM","t":154,"v":0.128},{"s":"12 nM:10 nM","t":168,"v":0.141},
{"s":"14 nM:10 nM","t":0,"v":0.005},{"s":"14 nM:10 nM","t":14,"v":0.012},{"s":"14 nM:10 nM","t":28,"v":0.022},{"s":"14 nM:10 nM","t":42,"v":0.031},{"s":"14 nM:10 nM","t":56,"v":0.040},{"s":"14 nM:10 nM","t":70,"v":0.050},{"s":"14 nM:10 nM","t":84,"v":0.059},{"s":"14 nM:10 nM","t":98,"v":0.068},{"s":"14 nM:10 nM","t":112,"v":0.076},{"s":"14 nM:10 nM","t":126,"v":0.085},{"s":"14 nM:10 nM","t":140,"v":0.096},{"s":"14 nM:10 nM","t":154,"v":0.107},{"s":"14 nM:10 nM","t":168,"v":0.117},
{"s":"16 nM:10 nM","t":0,"v":0.003},{"s":"16 nM:10 nM","t":14,"v":0.008},{"s":"16 nM:10 nM","t":28,"v":0.016},{"s":"16 nM:10 nM","t":42,"v":0.024},{"s":"16 nM:10 nM","t":56,"v":0.032},{"s":"16 nM:10 nM","t":70,"v":0.040},{"s":"16 nM:10 nM","t":84,"v":0.047},{"s":"16 nM:10 nM","t":98,"v":0.055},{"s":"16 nM:10 nM","t":112,"v":0.062},{"s":"16 nM:10 nM","t":126,"v":0.069},{"s":"16 nM:10 nM","t":140,"v":0.078},{"s":"16 nM:10 nM","t":154,"v":0.087},{"s":"16 nM:10 nM","t":168,"v":0.096},
{"s":"20 nM:10 nM","t":0,"v":0.000},{"s":"20 nM:10 nM","t":14,"v":0.002},{"s":"20 nM:10 nM","t":28,"v":0.005},{"s":"20 nM:10 nM","t":42,"v":0.008},{"s":"20 nM:10 nM","t":56,"v":0.011},{"s":"20 nM:10 nM","t":70,"v":0.016},{"s":"20 nM:10 nM","t":84,"v":0.021},{"s":"20 nM:10 nM","t":98,"v":0.027},{"s":"20 nM:10 nM","t":112,"v":0.033},{"s":"20 nM:10 nM","t":126,"v":0.039},{"s":"20 nM:10 nM","t":140,"v":0.044},{"s":"20 nM:10 nM","t":154,"v":0.050},{"s":"20 nM:10 nM","t":168,"v":0.056}
],
"p10":[
{"s":"0 nM:10 nM","t":0,"v":0.035},{"s":"0 nM:10 nM","t":14,"v":0.078},{"s":"0 nM:10 nM","t":28,"v":0.118},{"s":"0 nM:10 nM","t":42,"v":0.153},{"s":"0 nM:10 nM","t":56,"v":0.187},{"s":"0 nM:10 nM","t":70,"v":0.220},{"s":"0 nM:10 nM","t":84,"v":0.253},{"s":"0 nM:10 nM","t":98,"v":0.283},{"s":"0 nM:10 nM","t":112,"v":0.313},{"s":"0 nM:10 nM","t":126,"v":0.340},{"s":"0 nM:10 nM","t":140,"v":0.367},{"s":"0 nM:10 nM","t":154,"v":0.393},{"s":"0 nM:10 nM","t":168,"v":0.420},
{"s":"40 nM:10 nM","t":0,"v":0.030},{"s":"40 nM:10 nM","t":14,"v":0.072},{"s":"40 nM:10 nM","t":28,"v":0.095},{"s":"40 nM:10 nM","t":42,"v":0.125},{"s":"40 nM:10 nM","t":56,"v":0.153},{"s":"40 nM:10 nM","t":70,"v":0.180},{"s":"40 nM:10 nM","t":84,"v":0.206},{"s":"40 nM:10 nM","t":98,"v":0.232},{"s":"40 nM:10 nM","t":112,"v":0.258},{"s":"40 nM:10 nM","t":126,"v":0.283},{"s":"40 nM:10 nM","t":140,"v":0.306},{"s":"40 nM:10 nM","t":154,"v":0.330},{"s":"40 nM:10 nM","t":168,"v":0.352},
{"s":"60 nM:10 nM","t":0,"v":0.025},{"s":"60 nM:10 nM","t":14,"v":0.060},{"s":"60 nM:10 nM","t":28,"v":0.085},{"s":"60 nM:10 nM","t":42,"v":0.107},{"s":"60 nM:10 nM","t":56,"v":0.128},{"s":"60 nM:10 nM","t":70,"v":0.150},{"s":"60 nM:10 nM","t":84,"v":0.172},{"s":"60 nM:10 nM","t":98,"v":0.195},{"s":"60 nM:10 nM","t":112,"v":0.220},{"s":"60 nM:10 nM","t":126,"v":0.242},{"s":"60 nM:10 nM","t":140,"v":0.263},{"s":"60 nM:10 nM","t":154,"v":0.284},{"s":"60 nM:10 nM","t":168,"v":0.304},
{"s":"80 nM:10 nM","t":0,"v":0.020},{"s":"80 nM:10 nM","t":14,"v":0.045},{"s":"80 nM:10 nM","t":28,"v":0.065},{"s":"80 nM:10 nM","t":42,"v":0.082},{"s":"80 nM:10 nM","t":56,"v":0.100},{"s":"80 nM:10 nM","t":70,"v":0.118},{"s":"80 nM:10 nM","t":84,"v":0.135},{"s":"80 nM:10 nM","t":98,"v":0.152},{"s":"80 nM:10 nM","t":112,"v":0.170},{"s":"80 nM:10 nM","t":126,"v":0.187},{"s":"80 nM:10 nM","t":140,"v":0.203},{"s":"80 nM:10 nM","t":154,"v":0.218},{"s":"80 nM:10 nM","t":168,"v":0.234},
{"s":"100 nM:10 nM","t":0,"v":0.015},{"s":"100 nM:10 nM","t":14,"v":0.032},{"s":"100 nM:10 nM","t":28,"v":0.047},{"s":"100 nM:10 nM","t":42,"v":0.060},{"s":"100 nM:10 nM","t":56,"v":0.075},{"s":"100 nM:10 nM","t":70,"v":0.088},{"s":"100 nM:10 nM","t":84,"v":0.101},{"s":"100 nM:10 nM","t":98,"v":0.114},{"s":"100 nM:10 nM","t":112,"v":0.127},{"s":"100 nM:10 nM","t":126,"v":0.139},{"s":"100 nM:10 nM","t":140,"v":0.152},{"s":"100 nM:10 nM","t":154,"v":0.165},{"s":"100 nM:10 nM","t":168,"v":0.177},
{"s":"140 nM:10 nM","t":0,"v":0.008},{"s":"140 nM:10 nM","t":14,"v":0.018},{"s":"140 nM:10 nM","t":28,"v":0.025},{"s":"140 nM:10 nM","t":42,"v":0.032},{"s":"140 nM:10 nM","t":56,"v":0.041},{"s":"140 nM:10 nM","t":70,"v":0.049},{"s":"140 nM:10 nM","t":84,"v":0.056},{"s":"140 nM:10 nM","t":98,"v":0.063},{"s":"140 nM:10 nM","t":112,"v":0.070},{"s":"140 nM:10 nM","t":126,"v":0.077},{"s":"140 nM:10 nM","t":140,"v":0.084},{"s":"140 nM:10 nM","t":154,"v":0.091},{"s":"140 nM:10 nM","t":168,"v":0.098},
{"s":"180 nM:10 nM","t":0,"v":0.005},{"s":"180 nM:10 nM","t":14,"v":0.010},{"s":"180 nM:10 nM","t":28,"v":0.014},{"s":"180 nM:10 nM","t":42,"v":0.019},{"s":"180 nM:10 nM","t":56,"v":0.025},{"s":"180 nM:10 nM","t":70,"v":0.030},{"s":"180 nM:10 nM","t":84,"v":0.035},{"s":"180 nM:10 nM","t":98,"v":0.040},{"s":"180 nM:10 nM","t":112,"v":0.044},{"s":"180 nM:10 nM","t":126,"v":0.048},{"s":"180 nM:10 nM","t":140,"v":0.051},{"s":"180 nM:10 nM","t":154,"v":0.054},{"s":"180 nM:10 nM","t":168,"v":0.057},
{"s":"200 nM:10 nM","t":0,"v":0.000},{"s":"200 nM:10 nM","t":14,"v":0.002},{"s":"200 nM:10 nM","t":28,"v":0.005},{"s":"200 nM:10 nM","t":42,"v":0.008},{"s":"200 nM:10 nM","t":56,"v":0.010},{"s":"200 nM:10 nM","t":70,"v":0.013},{"s":"200 nM:10 nM","t":84,"v":0.016},{"s":"200 nM:10 nM","t":98,"v":0.019},{"s":"200 nM:10 nM","t":112,"v":0.022},{"s":"200 nM:10 nM","t":126,"v":0.024},{"s":"200 nM:10 nM","t":140,"v":0.026},{"s":"200 nM:10 nM","t":154,"v":0.028},{"s":"200 nM:10 nM","t":168,"v":0.030}
],
"d51":[
{"s":"0 nM:10 nM","t":0,"v":0.001},{"s":"0 nM:10 nM","t":6,"v":0.001},{"s":"0 nM:10 nM","t":12,"v":0.001},{"s":"0 nM:10 nM","t":18,"v":0.001},{"s":"0 nM:10 nM","t":24,"v":0.0015},{"s":"0 nM:10 nM","t":30,"v":0.0025},{"s":"0 nM:10 nM","t":36,"v":0.003},{"s":"0 nM:10 nM","t":42,"v":0.003},{"s":"0 nM:10 nM","t":48,"v":0.0035},{"s":"0 nM:10 nM","t":54,"v":0.004},{"s":"0 nM:10 nM","t":60,"v":0.005},{"s":"0 nM:10 nM","t":66,"v":0.006},{"s":"0 nM:10 nM","t":72,"v":0.0065},{"s":"0 nM:10 nM","t":78,"v":0.007},{"s":"0 nM:10 nM","t":84,"v":0.007},{"s":"0 nM:10 nM","t":90,"v":0.0075},{"s":"0 nM:10 nM","t":96,"v":0.008},{"s":"0 nM:10 nM","t":102,"v":0.008},{"s":"0 nM:10 nM","t":108,"v":0.008},{"s":"0 nM:10 nM","t":114,"v":0.0085},{"s":"0 nM:10 nM","t":120,"v":0.0085},{"s":"0 nM:10 nM","t":126,"v":0.0085},{"s":"0 nM:10 nM","t":132,"v":0.0085},{"s":"0 nM:10 nM","t":138,"v":0.009},{"s":"0 nM:10 nM","t":144,"v":0.0095},{"s":"0 nM:10 nM","t":150,"v":0.0095},{"s":"0 nM:10 nM","t":156,"v":0.0095},{"s":"0 nM:10 nM","t":162,"v":0.01},{"s":"0 nM:10 nM","t":168,"v":0.011},{"s":"0 nM:10 nM","t":174,"v":0.0115},{"s":"0 nM:10 nM","t":180,"v":0.0115},
{"s":"0.01µM:10 nM","t":0,"v":0.001},{"s":"0.01µM:10 nM","t":6,"v":0.002},{"s":"0.01µM:10 nM","t":12,"v":0.003},{"s":"0.01µM:10 nM","t":18,"v":0.0035},{"s":"0.01µM:10 nM","t":24,"v":0.004},{"s":"0.01µM:10 nM","t":30,"v":0.004},{"s":"0.01µM:10 nM","t":36,"v":0.004},{"s":"0.01µM:10 nM","t":42,"v":0.0045},{"s":"0.01µM:10 nM","t":48,"v":0.005},{"s":"0.01µM:10 nM","t":54,"v":0.005},{"s":"0.01µM:10 nM","t":60,"v":0.005},{"s":"0.01µM:10 nM","t":66,"v":0.005},{"s":"0.01µM:10 nM","t":72,"v":0.0055},{"s":"0.01µM:10 nM","t":78,"v":0.0055},{"s":"0.01µM:10 nM","t":84,"v":0.006},{"s":"0.01µM:10 nM","t":90,"v":0.0065},{"s":"0.01µM:10 nM","t":96,"v":0.007},{"s":"0.01µM:10 nM","t":102,"v":0.007},{"s":"0.01µM:10 nM","t":108,"v":0.0075},{"s":"0.01µM:10 nM","t":114,"v":0.0075},{"s":"0.01µM:10 nM","t":120,"v":0.008},{"s":"0.01µM:10 nM","t":126,"v":0.0085},{"s":"0.01µM:10 nM","t":132,"v":0.0085},{"s":"0.01µM:10 nM","t":138,"v":0.009},{"s":"0.01µM:10 nM","t":144,"v":0.009},{"s":"0.01µM:10 nM","t":150,"v":0.0095},{"s":"0.01µM:10 nM","t":156,"v":0.01},{"s":"0.01µM:10 nM","t":162,"v":0.01},{"s":"0.01µM:10 nM","t":168,"v":0.0105},{"s":"0.01µM:10 nM","t":174,"v":0.0105},{"s":"0.01µM:10 nM","t":180,"v":0.0105},
{"s":"0.05 µM:10 nM","t":0,"v":0.001},{"s":"0.05 µM:10 nM","t":6,"v":0.001},{"s":"0.05 µM:10 nM","t":12,"v":0.002},{"s":"0.05 µM:10 nM","t":18,"v":0.002},{"s":"0.05 µM:10 nM","t":24,"v":0.002},{"s":"0.05 µM:10 nM","t":30,"v":0.002},{"s":"0.05 µM:10 nM","t":36,"v":0.002},{"s":"0.05 µM:10 nM","t":42,"v":0.002},{"s":"0.05 µM:10 nM","t":48,"v":0.002},{"s":"0.05 µM:10 nM","t":54,"v":0.002},{"s":"0.05 µM:10 nM","t":60,"v":0.002},{"s":"0.05 µM:10 nM","t":66,"v":0.002},{"s":"0.05 µM:10 nM","t":72,"v":0.0025},{"s":"0.05 µM:10 nM","t":78,"v":0.003},{"s":"0.05 µM:10 nM","t":84,"v":0.003},{"s":"0.05 µM:10 nM","t":90,"v":0.003},{"s":"0.05 µM:10 nM","t":96,"v":0.003},{"s":"0.05 µM:10 nM","t":102,"v":0.003},{"s":"0.05 µM:10 nM","t":108,"v":0.0035},{"s":"0.05 µM:10 nM","t":114,"v":0.0035},{"s":"0.05 µM:10 nM","t":120,"v":0.004},{"s":"0.05 µM:10 nM","t":126,"v":0.0045},{"s":"0.05 µM:10 nM","t":132,"v":0.005},{"s":"0.05 µM:10 nM","t":138,"v":0.005},{"s":"0.05 µM:10 nM","t":144,"v":0.005},{"s":"0.05 µM:10 nM","t":150,"v":0.0055},{"s":"0.05 µM:10 nM","t":156,"v":0.006},{"s":"0.05 µM:10 nM","t":162,"v":0.006},{"s":"0.05 µM:10 nM","t":168,"v":0.006},{"s":"0.05 µM:10 nM","t":174,"v":0.0065},{"s":"0.05 µM:10 nM","t":180,"v":0.0065},
{"s":"1µM:10 nM","t":0,"v":0.001},{"s":"1µM:10 nM","t":6,"v":0.001},{"s":"1µM:10 nM","t":12,"v":0.001},{"s":"1µM:10 nM","t":18,"v":0.001},{"s":"1µM:10 nM","t":24,"v":0.001},{"s":"1µM:10 nM","t":30,"v":0.0},{"s":"1µM:10 nM","t":36,"v":0.001},{"s":"1µM:10 nM","t":42,"v":0.001},{"s":"1µM:10 nM","t":48,"v":0.001},{"s":"1µM:10 nM","t":54,"v":0.001},{"s":"1µM:10 nM","t":60,"v":0.0015},{"s":"1µM:10 nM","t":66,"v":0.002},{"s":"1µM:10 nM","t":72,"v":0.0025},{"s":"1µM:10 nM","t":78,"v":0.003},{"s":"1µM:10 nM","t":84,"v":0.003},{"s":"1µM:10 nM","t":90,"v":0.004},{"s":"1µM:10 nM","t":96,"v":0.004},{"s":"1µM:10 nM","t":102,"v":0.004},{"s":"1µM:10 nM","t":108,"v":0.004},{"s":"1µM:10 nM","t":114,"v":0.004},{"s":"1µM:10 nM","t":120,"v":0.004},{"s":"1µM:10 nM","t":126,"v":0.005},{"s":"1µM:10 nM","t":132,"v":0.005},{"s":"1µM:10 nM","t":138,"v":0.005},{"s":"1µM:10 nM","t":144,"v":0.0055},{"s":"1µM:10 nM","t":150,"v":0.0055},{"s":"1µM:10 nM","t":156,"v":0.006},{"s":"1µM:10 nM","t":162,"v":0.006},{"s":"1µM:10 nM","t":168,"v":0.006},{"s":"1µM:10 nM","t":174,"v":0.0065},{"s":"1µM:10 nM","t":180,"v":0.0065},
{"s":"10 µM:10 nM","t":0,"v":0.001},{"s":"10 µM:10 nM","t":6,"v":0.001},{"s":"10 µM:10 nM","t":12,"v":0.002},{"s":"10 µM:10 nM","t":18,"v":0.002},{"s":"10 µM:10 nM","t":24,"v":0.002},{"s":"10 µM:10 nM","t":30,"v":0.0025},{"s":"10 µM:10 nM","t":36,"v":0.003},{"s":"10 µM:10 nM","t":42,"v":0.003},{"s":"10 µM:10 nM","t":48,"v":0.003},{"s":"10 µM:10 nM","t":54,"v":0.003},{"s":"10 µM:10 nM","t":60,"v":0.003},{"s":"10 µM:10 nM","t":66,"v":0.003},{"s":"10 µM:10 nM","t":72,"v":0.003},{"s":"10 µM:10 nM","t":78,"v":0.003},{"s":"10 µM:10 nM","t":84,"v":0.003},{"s":"10 µM:10 nM","t":90,"v":0.003},{"s":"10 µM:10 nM","t":96,"v":0.003},{"s":"10 µM:10 nM","t":102,"v":0.003},{"s":"10 µM:10 nM","t":108,"v":0.0035},{"s":"10 µM:10 nM","t":114,"v":0.0035},{"s":"10 µM:10 nM","t":120,"v":0.0035},{"s":"10 µM:10 nM","t":126,"v":0.0035},{"s":"10 µM:10 nM","t":132,"v":0.004},{"s":"10 µM:10 nM","t":138,"v":0.004},{"s":"10 µM:10 nM","t":144,"v":0.004},{"s":"10 µM:10 nM","t":150,"v":0.004},{"s":"10 µM:10 nM","t":156,"v":0.004},{"s":"10 µM:10 nM","t":162,"v":0.005},{"s":"10 µM:10 nM","t":168,"v":0.005},{"s":"10 µM:10 nM","t":174,"v":0.005},{"s":"10 µM:10 nM","t":180,"v":0.005},
{"s":"50 µM:10 nM","t":0,"v":0.0},{"s":"50 µM:10 nM","t":6,"v":0.0},{"s":"50 µM:10 nM","t":12,"v":0.0},{"s":"50 µM:10 nM","t":18,"v":0.0},{"s":"50 µM:10 nM","t":24,"v":0.0},{"s":"50 µM:10 nM","t":30,"v":0.0},{"s":"50 µM:10 nM","t":36,"v":0.0},{"s":"50 µM:10 nM","t":42,"v":0.0},{"s":"50 µM:10 nM","t":48,"v":0.001},{"s":"50 µM:10 nM","t":54,"v":0.001},{"s":"50 µM:10 nM","t":60,"v":0.001},{"s":"50 µM:10 nM","t":66,"v":0.001},{"s":"50 µM:10 nM","t":72,"v":0.001},{"s":"50 µM:10 nM","t":78,"v":0.001},{"s":"50 µM:10 nM","t":84,"v":0.002},{"s":"50 µM:10 nM","t":90,"v":0.002},{"s":"50 µM:10 nM","t":96,"v":0.002},{"s":"50 µM:10 nM","t":102,"v":0.002},{"s":"50 µM:10 nM","t":108,"v":0.002},{"s":"50 µM:10 nM","t":114,"v":0.002},{"s":"50 µM:10 nM","t":120,"v":0.002},{"s":"50 µM:10 nM","t":126,"v":0.002},{"s":"50 µM:10 nM","t":132,"v":0.0025},{"s":"50 µM:10 nM","t":138,"v":0.0025},{"s":"50 µM:10 nM","t":144,"v":0.003},{"s":"50 µM:10 nM","t":150,"v":0.003},{"s":"50 µM:10 nM","t":156,"v":0.003},{"s":"50 µM:10 nM","t":162,"v":0.003},{"s":"50 µM:10 nM","t":168,"v":0.003},{"s":"50 µM:10 nM","t":174,"v":0.003},{"s":"50 µM:10 nM","t":180,"v":0.003},
{"s":"100 µM:10 nM","t":0,"v":0.0},{"s":"100 µM:10 nM","t":6,"v":0.0},{"s":"100 µM:10 nM","t":12,"v":0.0},{"s":"100 µM:10 nM","t":18,"v":0.0},{"s":"100 µM:10 nM","t":24,"v":0.0},{"s":"100 µM:10 nM","t":30,"v":0.0},{"s":"100 µM:10 nM","t":36,"v":0.0},{"s":"100 µM:10 nM","t":42,"v":0.0},{"s":"100 µM:10 nM","t":48,"v":0.0},{"s":"100 µM:10 nM","t":54,"v":0.0},{"s":"100 µM:10 nM","t":60,"v":0.0},{"s":"100 µM:10 nM","t":66,"v":0.0},{"s":"100 µM:10 nM","t":72,"v":0.0},{"s":"100 µM:10 nM","t":78,"v":0.0},{"s":"100 µM:10 nM","t":84,"v":0.0},{"s":"100 µM:10 nM","t":90,"v":0.0},{"s":"100 µM:10 nM","t":96,"v":0.0},{"s":"100 µM:10 nM","t":102,"v":0.0005},{"s":"100 µM:10 nM","t":108,"v":0.0005},{"s":"100 µM:10 nM","t":114,"v":0.001},{"s":"100 µM:10 nM","t":120,"v":0.001},{"s":"100 µM:10 nM","t":126,"v":0.001},{"s":"100 µM:10 nM","t":132,"v":0.001},{"s":"100 µM:10 nM","t":138,"v":0.001},{"s":"100 µM:10 nM","t":144,"v":0.001},{"s":"100 µM:10 nM","t":150,"v":0.001},{"s":"100 µM:10 nM","t":156,"v":0.001},{"s":"100 µM:10 nM","t":162,"v":0.001},{"s":"100 µM:10 nM","t":168,"v":0.001},{"s":"100 µM:10 nM","t":174,"v":0.001},{"s":"100 µM:10 nM","t":180,"v":0.001}
]
},
"vconcat":[
{"columns":2,"bounds":"flush","spacing":{"row":85,"column":188},
 "resolve":{"scale":{"x":"independent","y":"independent","shape":"independent","fill":"independent","stroke":"independent"},"legend":{"shape":"independent","fill":"independent","stroke":"independent"}},
 "concat":[
{"title":"LN-1-255:OXA-23","width":209,"height":139,"data":{"name":"p1"},
 "encoding":{"x":{"field":"t","type":"quantitative","scale":{"domain":[0,200]},"axis":{"values":[0,50,100,150,200],"title":"Time (sec.)"}},
  "y":{"field":"v","type":"quantitative","scale":{"domain":[0,0.25],"nice":false},"axis":{"values":[0,0.05,0.1,0.15,0.2,0.25],"format":".2f","title":"Δ Abs ₄₈₆ ₙₘ"}}},
 "layer":[{"mark":{"type":"line","color":"black","strokeWidth":1.5},"encoding":{"detail":{"field":"s"}}},
  {"mark":{"type":"point","filled":true,"strokeWidth":1,"size":26,"opacity":1},
   "encoding":{"shape":{"field":"s","type":"nominal","scale":{"domain":["0 nM:10 nM","1 nM:10 nM","2 nM:10 nM","4 nM:10 nM","6 nM:10 nM","8 nM:10 nM"],"range":["circle","square","triangle-up","triangle-down","diamond","circle"]},"legend":{"title":null}},
    "fill":{"field":"s","type":"nominal","scale":{"domain":["0 nM:10 nM","1 nM:10 nM","2 nM:10 nM","4 nM:10 nM","6 nM:10 nM","8 nM:10 nM"],"range":["black"]},"legend":{"title":null}},
    "stroke":{"field":"s","type":"nominal","scale":{"domain":["0 nM:10 nM","1 nM:10 nM","2 nM:10 nM","4 nM:10 nM","6 nM:10 nM","8 nM:10 nM"],"range":["black"]},"legend":{"title":null}}}}]},
{"title":"AVIBACTAM:OXA-23","width":209,"height":139,"data":{"name":"p2"},
 "encoding":{"x":{"field":"t","type":"quantitative","scale":{"domain":[0,200]},"axis":{"values":[0,50,100,150,200],"title":"Time (sec.)"}},
  "y":{"field":"v","type":"quantitative","scale":{"domain":[0,0.3],"nice":false},"axis":{"values":[0,0.1,0.2,0.3],"format":".1f","title":"Δ Abs ₄₈₆ ₙₘ"}}},
 "layer":[{"mark":{"type":"line","color":"black","strokeWidth":1.5},"encoding":{"detail":{"field":"s"}}},
  {"mark":{"type":"point","filled":true,"strokeWidth":1,"size":26,"opacity":1},
   "encoding":{"shape":{"field":"s","type":"nominal","scale":{"domain":["0 nM:10 nM","100 nM:10 nM","250 nM:10 nM","500 nM:10 nM","750 nM:10 nM","1000 nM:10 nM","2000 nM:10 nM","3000 nM:10 nM"],"range":["circle","square","triangle-up","triangle-down","diamond","circle","square","triangle-up"]},"legend":{"title":null}},
    "fill":{"field":"s","type":"nominal","scale":{"domain":["0 nM:10 nM","100 nM:10 nM","250 nM:10 nM","500 nM:10 nM","750 nM:10 nM","1000 nM:10 nM","2000 nM:10 nM","3000 nM:10 nM"],"range":["black","black","black","black","black","black","white","black"]},"legend":{"title":null}},
    "stroke":{"field":"s","type":"nominal","scale":{"domain":["0 nM:10 nM","100 nM:10 nM","250 nM:10 nM","500 nM:10 nM","750 nM:10 nM","1000 nM:10 nM","2000 nM:10 nM","3000 nM:10 nM"],"range":["black"]},"legend":{"title":null}}}}]},
{"title":"LN-1-255:OXA-24","width":209,"height":139,"data":{"name":"p3"},
 "encoding":{"x":{"field":"t","type":"quantitative","scale":{"domain":[0,200]},"axis":{"values":[0,50,100,150,200],"title":"Time (sec.)"}},
  "y":{"field":"v","type":"quantitative","scale":{"domain":[0,0.2],"nice":false},"axis":{"values":[0,0.05,0.1,0.15,0.2],"format":".2f","title":"Δ Abs ₄₈₆ ₙₘ"}}},
 "layer":[{"mark":{"type":"line","color":"black","strokeWidth":1.5},"encoding":{"detail":{"field":"s"}}},
  {"mark":{"type":"point","filled":true,"strokeWidth":1,"size":26,"opacity":1},
   "encoding":{"shape":{"field":"s","type":"nominal","scale":{"domain":["0 nM:10 nM","4 nM:10 nM","8 nM:10 nM","10 nM:10 nM","20 nM:10 nM","40 nM:10 nM","80 nM:10 nM"],"range":["circle","square","triangle-up","triangle-down","diamond","circle","square"]},"legend":{"title":null}},
    "fill":{"field":"s","type":"nominal","scale":{"domain":["0 nM:10 nM","4 nM:10 nM","8 nM:10 nM","10 nM:10 nM","20 nM:10 nM","40 nM:10 nM","80 nM:10 nM"],"range":["black","black","black","black","black","black","white"]},"legend":{"title":null}},
    "stroke":{"field":"s","type":"nominal","scale":{"domain":["0 nM:10 nM","4 nM:10 nM","8 nM:10 nM","10 nM:10 nM","20 nM:10 nM","40 nM:10 nM","80 nM:10 nM"],"range":["black"]},"legend":{"title":null}}}}]},
{"title":"AVIBACTAM:OXA-24","width":209,"height":139,"data":{"name":"p4"},
 "encoding":{"x":{"field":"t","type":"quantitative","scale":{"domain":[0,200]},"axis":{"values":[0,50,100,150,200],"title":"Time (sec.)"}},
  "y":{"field":"v","type":"quantitative","scale":{"domain":[0,0.2],"nice":false},"axis":{"values":[0,0.05,0.1,0.15,0.2],"format":".2f","title":"Δ Abs ₄₈₆ ₙₘ"}}},
 "layer":[{"mark":{"type":"line","color":"black","strokeWidth":1.5},"encoding":{"detail":{"field":"s"}}},
  {"mark":{"type":"point","filled":true,"strokeWidth":1,"size":26,"opacity":1},
   "encoding":{"shape":{"field":"s","type":"nominal","scale":{"domain":["0 nM:10 nM","10 nM:10 nM","50 nM: 10 nM","200 nM:10 nM","500 nM:10 nM","1000 nM:10 nM","1500 nM:10 nM"],"range":["circle","square","triangle-up","triangle-down","diamond","circle","square"]},"legend":{"title":null}},
    "fill":{"field":"s","type":"nominal","scale":{"domain":["0 nM:10 nM","10 nM:10 nM","50 nM: 10 nM","200 nM:10 nM","500 nM:10 nM","1000 nM:10 nM","1500 nM:10 nM"],"range":["black","black","black","black","black","black","white"]},"legend":{"title":null}},
    "stroke":{"field":"s","type":"nominal","scale":{"domain":["0 nM:10 nM","10 nM:10 nM","50 nM: 10 nM","200 nM:10 nM","500 nM:10 nM","1000 nM:10 nM","1500 nM:10 nM"],"range":["black"]},"legend":{"title":null}}}}]},
{"title":"LN-1-255:OXA-58","width":209,"height":139,"data":{"name":"p5"},
 "encoding":{"x":{"field":"t","type":"quantitative","scale":{"domain":[0,200]},"axis":{"values":[0,50,100,150,200],"title":"Time (sec.)"}},
  "y":{"field":"v","type":"quantitative","scale":{"domain":[0,0.15],"nice":false},"axis":{"values":[0,0.05,0.1,0.15],"format":".2f","title":"Δ Abs ₄₈₆ ₙₘ"}}},
 "layer":[{"mark":{"type":"line","color":"black","strokeWidth":1.5},"encoding":{"detail":{"field":"s"}}},
  {"mark":{"type":"point","filled":true,"strokeWidth":1,"size":26,"opacity":1},
   "encoding":{"shape":{"field":"s","type":"nominal","scale":{"domain":["0 nM:10 nM","10 nM:10 nM","25 nM:10 nM","30 nM:10 nM","35 nM:10 nM","40 nM:10 nM"],"range":["circle","square","triangle-up","triangle-down","diamond","circle"]},"legend":{"title":null}},
    "fill":{"field":"s","type":"nominal","scale":{"domain":["0 nM:10 nM","10 nM:10 nM","25 nM:10 nM","30 nM:10 nM","35 nM:10 nM","40 nM:10 nM"],"range":["black"]},"legend":{"title":null}},
    "stroke":{"field":"s","type":"nominal","scale":{"domain":["0 nM:10 nM","10 nM:10 nM","25 nM:10 nM","30 nM:10 nM","35 nM:10 nM","40 nM:10 nM"],"range":["black"]},"legend":{"title":null}}}}]},
{"title":"AVIBACTAM:OXA-143","width":209,"height":139,"data":{"name":"p6"},
 "encoding":{"x":{"field":"t","type":"quantitative","scale":{"domain":[0,200]},"axis":{"values":[0,50,100,150,200],"title":"Time (sec.)"}},
  "y":{"field":"v","type":"quantitative","scale":{"domain":[0,0.15],"nice":false},"axis":{"values":[0,0.05,0.1,0.15],"format":".2f","title":"Δ Abs ₄₈₆ ₙₘ"}}},
 "layer":[{"mark":{"type":"line","color":"black","strokeWidth":1.5},"encoding":{"detail":{"field":"s"}}},
  {"mark":{"type":"point","filled":true,"strokeWidth":1,"size":26,"opacity":1},
   "encoding":{"shape":{"field":"s","type":"nominal","scale":{"domain":["0 nM:10 nM","200 nM:10 nM","400nM:10 nM","600 nM:10 nM","800 nM:10 nM","900 nM:10 nM"],"range":["circle","square","triangle-up","triangle-down","diamond","circle"]},"legend":{"title":null}},
    "fill":{"field":"s","type":"nominal","scale":{"domain":["0 nM:10 nM","200 nM:10 nM","400nM:10 nM","600 nM:10 nM","800 nM:10 nM","900 nM:10 nM"],"range":["black"]},"legend":{"title":null}},
    "stroke":{"field":"s","type":"nominal","scale":{"domain":["0 nM:10 nM","200 nM:10 nM","400nM:10 nM","600 nM:10 nM","800 nM:10 nM","900 nM:10 nM"],"range":["black"]},"legend":{"title":null}}}}]},
{"title":"LN-1-255:OXA-143","width":209,"height":139,"data":{"name":"p7"},
 "encoding":{"x":{"field":"t","type":"quantitative","scale":{"domain":[0,200]},"axis":{"values":[0,50,100,150,200],"title":"Time (Sec.)"}},
  "y":{"field":"v","type":"quantitative","scale":{"domain":[0,0.15],"nice":false},"axis":{"values":[0,0.05,0.1,0.15],"format":".2f","title":"Δ Abs ₄₈₆ ₙₘ"}}},
 "layer":[{"mark":{"type":"line","color":"black","strokeWidth":1.5},"encoding":{"detail":{"field":"s"}}},
  {"mark":{"type":"point","filled":true,"strokeWidth":1,"size":26,"opacity":1},
   "encoding":{"shape":{"field":"s","type":"nominal","scale":{"domain":["0 nM:10 nM","10 nM:10 nM","20 nM:10 nM","25 nM:10 nM","35 nM:10 nM","40 nM:10 nM"],"range":["circle","square","triangle-up","triangle-down","diamond","circle"]},"legend":{"title":null}},
    "fill":{"field":"s","type":"nominal","scale":{"domain":["0 nM:10 nM","10 nM:10 nM","20 nM:10 nM","25 nM:10 nM","35 nM:10 nM","40 nM:10 nM"],"range":["black"]},"legend":{"title":null}},
    "stroke":{"field":"s","type":"nominal","scale":{"domain":["0 nM:10 nM","10 nM:10 nM","20 nM:10 nM","25 nM:10 nM","35 nM:10 nM","40 nM:10 nM"],"range":["black"]},"legend":{"title":null}}}}]},
{"title":"AVIBACTAM:OXA-58","width":209,"height":139,"data":{"name":"p8"},
 "encoding":{"x":{"field":"t","type":"quantitative","scale":{"domain":[0,200]},"axis":{"values":[0,50,100,150,200],"title":"Time (sec.)"}},
  "y":{"field":"v","type":"quantitative","scale":{"domain":[0,0.2],"nice":false},"axis":{"values":[0,0.05,0.1,0.15,0.2],"format":".2f","title":"Δ Abs ₄₈₆ ₙₘ"}}},
 "layer":[{"mark":{"type":"line","color":"black","strokeWidth":1.5},"encoding":{"detail":{"field":"s"}}},
  {"mark":{"type":"point","filled":true,"strokeWidth":1,"size":26,"opacity":1},
   "encoding":{"shape":{"field":"s","type":"nominal","scale":{"domain":["0 nM:10 nM","100 nM:10 nM","150 nM:10 nM","250 nM:10 nM","300 nM:10 nM","400 nM:10 nM","500 nM:10 nM","700 nM:10 nM"],"range":["circle","square","triangle-up","triangle-down","diamond","circle","square","triangle-up"]},"legend":{"title":null}},
    "fill":{"field":"s","type":"nominal","scale":{"domain":["0 nM:10 nM","100 nM:10 nM","150 nM:10 nM","250 nM:10 nM","300 nM:10 nM","400 nM:10 nM","500 nM:10 nM","700 nM:10 nM"],"range":["black","black","black","black","black","black","white","black"]},"legend":{"title":null}},
    "stroke":{"field":"s","type":"nominal","scale":{"domain":["0 nM:10 nM","100 nM:10 nM","150 nM:10 nM","250 nM:10 nM","300 nM:10 nM","400 nM:10 nM","500 nM:10 nM","700 nM:10 nM"],"range":["black"]},"legend":{"title":null}}}}]},
{"title":"LN-1-255:OXA-235","width":209,"height":139,"data":{"name":"p9"},
 "encoding":{"x":{"field":"t","type":"quantitative","scale":{"domain":[0,200]},"axis":{"values":[0,50,100,150,200],"title":"Time (sec.)"}},
  "y":{"field":"v","type":"quantitative","scale":{"domain":[0,0.4],"nice":false},"axis":{"values":[0,0.1,0.2,0.3,0.4],"format":".1f","title":"Δ Abs ₄₈₆ ₙₘ"}}},
 "layer":[{"mark":{"type":"line","color":"black","strokeWidth":1.5},"encoding":{"detail":{"field":"s"}}},
  {"mark":{"type":"point","filled":true,"strokeWidth":1,"size":26,"opacity":1},
   "encoding":{"shape":{"field":"s","type":"nominal","scale":{"domain":["0 nM:10 nM","2 nM:10 nM","6 nM:10 nM","8 nM:10 nM","12 nM:10 nM","14 nM:10 nM","16 nM:10 nM","20 nM:10 nM"],"range":["circle","square","triangle-up","triangle-down","diamond","circle","square","triangle-up"]},"legend":{"title":null}},
    "fill":{"field":"s","type":"nominal","scale":{"domain":["0 nM:10 nM","2 nM:10 nM","6 nM:10 nM","8 nM:10 nM","12 nM:10 nM","14 nM:10 nM","16 nM:10 nM","20 nM:10 nM"],"range":["black","black","black","black","black","black","white","black"]},"legend":{"title":null}},
    "stroke":{"field":"s","type":"nominal","scale":{"domain":["0 nM:10 nM","2 nM:10 nM","6 nM:10 nM","8 nM:10 nM","12 nM:10 nM","14 nM:10 nM","16 nM:10 nM","20 nM:10 nM"],"range":["black"]},"legend":{"title":null}}}}]},
{"title":"AVIBACTAM:OXA-235","width":209,"height":139,"data":{"name":"p10"},
 "encoding":{"x":{"field":"t","type":"quantitative","scale":{"domain":[0,200]},"axis":{"values":[0,50,100,150,200],"title":"Time (sec.)"}},
  "y":{"field":"v","type":"quantitative","scale":{"domain":[0,0.5],"nice":false},"axis":{"values":[0,0.1,0.2,0.3,0.4,0.5],"format":".1f","title":"Δ Abs ₄₈₆ ₙₘ"}}},
 "layer":[{"mark":{"type":"line","color":"black","strokeWidth":1.5},"encoding":{"detail":{"field":"s"}}},
  {"mark":{"type":"point","filled":true,"strokeWidth":1,"size":26,"opacity":1},
   "encoding":{"shape":{"field":"s","type":"nominal","scale":{"domain":["0 nM:10 nM","40 nM:10 nM","60 nM:10 nM","80 nM:10 nM","100 nM:10 nM","140 nM:10 nM","180 nM:10 nM","200 nM:10 nM"],"range":["circle","square","triangle-up","triangle-down","diamond","circle","square","triangle-up"]},"legend":{"title":null}},
    "fill":{"field":"s","type":"nominal","scale":{"domain":["0 nM:10 nM","40 nM:10 nM","60 nM:10 nM","80 nM:10 nM","100 nM:10 nM","140 nM:10 nM","180 nM:10 nM","200 nM:10 nM"],"range":["black","black","black","black","black","black","white","black"]},"legend":{"title":null}},
    "stroke":{"field":"s","type":"nominal","scale":{"domain":["0 nM:10 nM","40 nM:10 nM","60 nM:10 nM","80 nM:10 nM","100 nM:10 nM","140 nM:10 nM","180 nM:10 nM","200 nM:10 nM"],"range":["black"]},"legend":{"title":null}}}}]}
 ]},
{"bounds":"flush","spacing":206,
 "resolve":{"scale":{"x":"independent","y":"independent","shape":"independent","fill":"independent","stroke":"independent"},"legend":{"shape":"independent","fill":"independent","stroke":"independent"}},
 "hconcat":[
{"title":"AVIBACTAM:OXA-51","width":209,"height":139,"data":{"name":"d51"},
 "encoding":{"x":{"field":"t","type":"quantitative","scale":{"domain":[0,200]},"axis":{"values":[0,50,100,150,200],"title":"Time (sec.)"}},
  "y":{"field":"v","type":"quantitative","scale":{"domain":[0,0.012],"nice":false},"axis":{"values":[0,0.002,0.004,0.006,0.008,0.01,0.012],"format":".3f","labelFontSize":10,"labelPadding":1,"titlePadding":1,"titleFontSize":11,"title":"Δ Abs ₄₈₆ ₙₘ"}}},
 "layer":[{"mark":{"type":"line","color":"black","strokeWidth":1.5},"encoding":{"detail":{"field":"s"}}},
  {"mark":{"type":"point","filled":true,"strokeWidth":1,"size":26,"opacity":1},
   "encoding":{"shape":{"field":"s","type":"nominal","scale":{"domain":["0 nM:10 nM","0.01µM:10 nM","0.05 µM:10 nM","1µM:10 nM","10 µM:10 nM","50 µM:10 nM","100 µM:10 nM"],"range":["circle","triangle-up","triangle-down","diamond","circle","square","triangle-up"]},"legend":{"title":null}},
    "fill":{"field":"s","type":"nominal","scale":{"domain":["0 nM:10 nM","0.01µM:10 nM","0.05 µM:10 nM","1µM:10 nM","10 µM:10 nM","50 µM:10 nM","100 µM:10 nM"],"range":["black","black","black","black","white","white","white"]},"legend":{"title":null}},
    "stroke":{"field":"s","type":"nominal","scale":{"domain":["0 nM:10 nM","0.01µM:10 nM","0.05 µM:10 nM","1µM:10 nM","10 µM:10 nM","50 µM:10 nM","100 µM:10 nM"],"range":["black"]},"legend":{"title":null}}}}]},
{"title":"AVIBACTAM:OXA-51","width":206,"height":139,"data":{"name":"d51"},
 "encoding":{"x":{"field":"t","type":"quantitative","scale":{"domain":[0,200]},"axis":{"values":[0,50,100,150,200],"title":"Time (sec.)"}},
  "y":{"field":"v","type":"quantitative","scale":{"domain":[0,0.012],"nice":false},"axis":{"values":[0,0.002,0.004,0.006,0.008,0.01,0.012],"format":".3f","labelFontSize":10,"labelPadding":1,"titlePadding":1,"titleFontSize":11,"title":"Δ Abs ₄₈₆ ₙₘ"}}},
 "layer":[{"mark":{"type":"line","color":"black","strokeWidth":1.5},"encoding":{"detail":{"field":"s"}}},
  {"mark":{"type":"point","filled":true,"strokeWidth":1,"size":26,"opacity":1},
   "encoding":{"shape":{"field":"s","type":"nominal","scale":{"domain":["0 nM:10 nM","0.01µM:10 nM","0.05 µM:10 nM","1µM:10 nM","10 µM:10 nM","50 µM:10 nM","100 µM:10 nM"],"range":["circle","triangle-up","triangle-down","diamond","circle","square","triangle-up"]},"legend":{"title":null,"offset":0,"labelFontSize":11}},
    "fill":{"field":"s","type":"nominal","scale":{"domain":["0 nM:10 nM","0.01µM:10 nM","0.05 µM:10 nM","1µM:10 nM","10 µM:10 nM","50 µM:10 nM","100 µM:10 nM"],"range":["black","black","black","black","white","white","white"]},"legend":{"title":null,"offset":0,"labelFontSize":11}},
    "stroke":{"field":"s","type":"nominal","scale":{"domain":["0 nM:10 nM","0.01µM:10 nM","0.05 µM:10 nM","1µM:10 nM","10 µM:10 nM","50 µM:10 nM","100 µM:10 nM"],"range":["black"]},"legend":{"title":null,"offset":0,"labelFontSize":11}}}}]}
 ]}
]
}
